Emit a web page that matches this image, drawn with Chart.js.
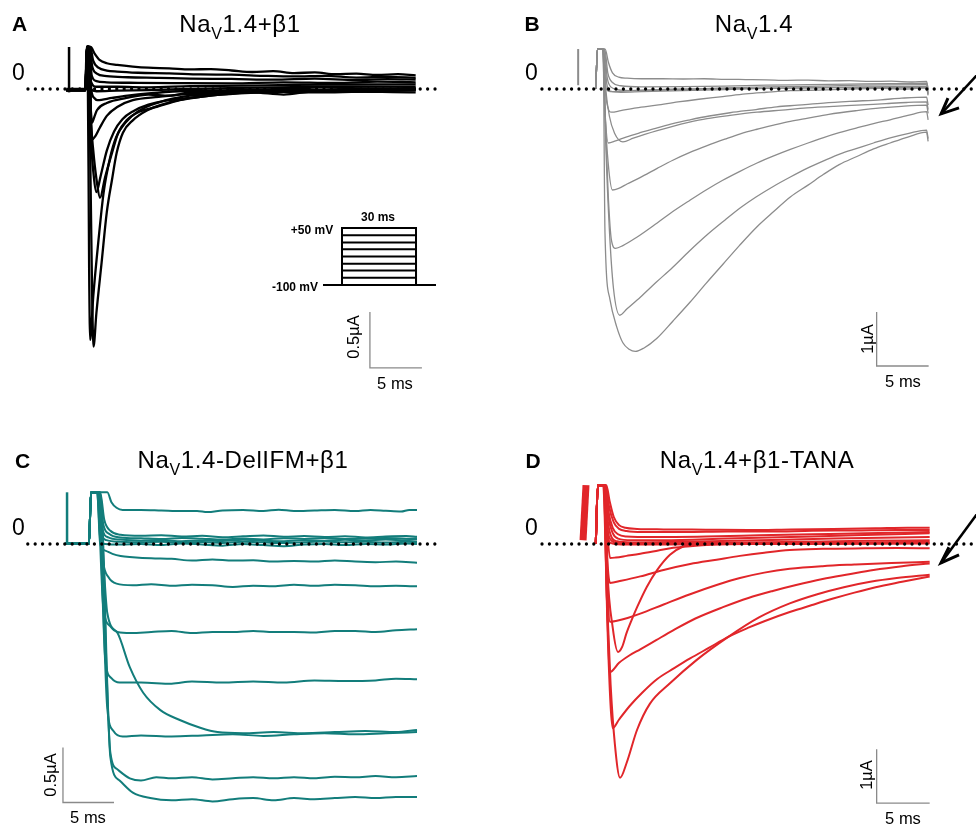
<!DOCTYPE html>
<html>
<head>
<meta charset="utf-8">
<script src="https://cdn.jsdelivr.net/npm/chart.js@4.4.1/dist/chart.umd.min.js"></script>
<style>
html, body { margin: 0; padding: 0; background: #fff; }
#fig { position: relative; width: 976px; height: 827px; overflow: hidden; font-family: "Liberation Sans", Arial, sans-serif; }
#fig canvas { position: absolute; }
.t { position: absolute; white-space: nowrap; color: #000; line-height: 1; transform: translate(-50%, -50%); }
.letter { font-weight: bold; font-size: 21px; }
.title { font-size: 24px; letter-spacing: 0.6px; }
.title sub { font-size: 16px; position: relative; top: 7px; vertical-align: baseline; line-height: 0; }
.zero { font-size: 23px; }
.cal { font-size: 16.5px; }
.rot { transform: translate(-50%, -50%) rotate(-90deg); }
.proto { font-weight: bold; font-size: 12px; }
</style>
</head>
<body>
<div id="fig">
  <canvas id="cA"></canvas>
  <canvas id="cB"></canvas>
  <canvas id="cC"></canvas>
  <canvas id="cD"></canvas>
  <canvas id="cP"></canvas>

  <div class="t letter" style="left:19.5px;top:23px">A</div>
  <div class="t letter" style="left:532px;top:23px">B</div>
  <div class="t letter" style="left:22.5px;top:460px">C</div>
  <div class="t letter" style="left:533px;top:460px">D</div>

  <div class="t title" style="left:240px;top:24px">Na<sub>V</sub>1.4+β1</div>
  <div class="t title" style="left:754px;top:24px">Na<sub>V</sub>1.4</div>
  <div class="t title" style="left:243px;top:460px">Na<sub>V</sub>1.4-DelIFM+β1</div>
  <div class="t title" style="left:757px;top:460px">Na<sub>V</sub>1.4+β1-TANA</div>

  <div class="t zero" style="left:18.5px;top:71.5px">0</div>
  <div class="t zero" style="left:531.5px;top:71.5px">0</div>
  <div class="t zero" style="left:18.5px;top:526.5px">0</div>
  <div class="t zero" style="left:531.5px;top:526.5px">0</div>

  <div class="t cal" style="left:395px;top:383px">5 ms</div>
  <div class="t cal rot" style="left:353px;top:337px">0.5µA</div>
  <div class="t cal" style="left:903px;top:381px">5 ms</div>
  <div class="t cal rot" style="left:867px;top:339px">1µA</div>
  <div class="t cal" style="left:88px;top:817px">5 ms</div>
  <div class="t cal rot" style="left:50px;top:775px">0.5µA</div>
  <div class="t cal" style="left:903px;top:818px">5 ms</div>
  <div class="t cal rot" style="left:866px;top:775px">1µA</div>

  <div class="t proto" style="left:378px;top:217px">30 ms</div>
  <div class="t proto" style="left:312px;top:230px">+50 mV</div>
  <div class="t proto" style="left:295px;top:287px">-100 mV</div>
</div>

<script>
// ---- data: time in ms from pulse onset, current in uA ----

// A: Nav1.4 + beta1
const tracesA = [
  [[-1.9,-0.01],[-0.05,-0.01],[0.1,0.375],[0.45,0.375],[0.8,0.32],[1.3,0.26],[2,0.23],[3,0.215],[4.5,0.2],[6,0.19],[8,0.185],[10,0.175],[12,0.178],[14,0.165],[16,0.152],[18,0.16],[20,0.142],[22,0.148],[24,0.132],[26,0.138],[28,0.125],[30,0.132],[31.7,0.122]],
  [[-1.9,-0.01],[-0.05,-0.01],[0.1,0.375],[0.4,0.375],[0.7,0.25],[1.2,0.19],[2,0.165],[3,0.155],[5,0.145],[8,0.14],[11,0.13],[14,0.128],[17,0.118],[20,0.112],[23,0.118],[26,0.102],[29,0.108],[31.7,0.1]],
  [[-1.9,-0.01],[-0.05,-0.01],[0.1,0.375],[0.35,0.375],[0.6,0.2],[1,0.14],[2,0.115],[4,0.105],[7,0.1],[10,0.093],[14,0.09],[18,0.083],[22,0.092],[26,0.08],[29,0.088],[31.7,0.084]],
  [[-1.9,-0.01],[-0.05,-0.01],[0.1,0.375],[0.3,0.375],[0.55,0.12],[1,0.07],[2,0.06],[5,0.055],[9,0.052],[14,0.05],[19,0.06],[24,0.054],[28,0.066],[31.7,0.06]],
  [[-1.9,-0.01],[-0.05,-0.01],[0.1,0.375],[0.25,0.375],[0.5,0.06],[1,0.02],[3,0.02],[6,0.015],[10,0.025],[15,0.03],[20,0.036],[25,0.04],[31.7,0.042]],
  [[-1.9,-0.01],[-0.05,-0.01],[0.08,0.375],[0.2,0.375],[0.45,0.0],[1,-0.02],[3,-0.015],[6,-0.01],[10,0.0],[15,0.01],[20,0.016],[25,0.02],[31.7,0.022]],
  [[-1.9,-0.01],[-0.05,-0.01],[0.08,0.375],[0.3,0.375],[0.5,0.0],[0.8,-0.08],[1.1,-0.1],[2.5,-0.08],[4,-0.06],[6,-0.04],[9,-0.02],[14,-0.01],[20,0.0],[26,-0.02],[31.7,0.0]],
  [[-1.9,-0.01],[-0.05,-0.01],[0.08,0.375],[0.3,0.375],[0.45,-0.15],[0.58,-0.3],[0.8,-0.25],[1.05,-0.19],[2,-0.125],[3.9,-0.08],[6,-0.05],[8,-0.06],[10,-0.03],[16,-0.02],[22,-0.03],[31.7,-0.01]],
  [[-1.9,-0.01],[-0.05,-0.01],[0.08,0.375],[0.3,0.375],[0.45,-0.25],[0.6,-0.45],[0.9,-0.42],[1.3,-0.35],[2,-0.24],[3,-0.16],[4.5,-0.1],[7,-0.07],[9,-0.05],[12,-0.04],[16,-0.03],[22,-0.02],[31.7,-0.03]],
  [[-1.9,-0.01],[-0.05,-0.01],[0.08,0.375],[0.28,0.375],[0.5,-0.45],[0.75,-0.78],[1.0,-0.92],[1.4,-0.78],[2.0,-0.55],[2.7,-0.38],[3.5,-0.27],[4.5,-0.2],[6,-0.14],[8,-0.1],[10,-0.08],[13,-0.05],[17,-0.03],[22,-0.02],[31.7,-0.01]],
  [[-1.9,-0.01],[-0.05,-0.01],[0.1,0.375],[0.3,0.375],[0.5,-0.3],[0.7,-0.55],[1.0,-0.8],[1.35,-0.97],[1.83,-0.79],[2.5,-0.57],[3.1,-0.39],[3.9,-0.28],[5.2,-0.2],[6.8,-0.16],[9,-0.1],[11,-0.07],[12.9,-0.05],[16,-0.03],[19,-0.05],[22,-0.02],[26,-0.02],[31.7,0.0]],
  [[-1.9,0.0],[-0.05,0.0],[0.05,0.375],[0.15,0.375],[0.3,-1.6],[0.4,-2.24],[0.7,-1.85],[1.2,-1.35],[1.7,-0.92],[2.3,-0.62],[2.9,-0.43],[3.8,-0.3],[5,-0.2],[7,-0.12],[10,-0.06],[14,-0.03],[20,-0.01],[26,0.0],[31.7,0.01]],
  [[-1.9,-0.01],[-0.05,-0.01],[0.1,0.375],[0.25,0.375],[0.45,-0.9],[0.6,-1.9],[0.72,-2.3],[1.0,-2.0],[1.5,-1.55],[2.0,-1.1],[2.5,-0.81],[2.95,-0.57],[3.55,-0.39],[4.5,-0.28],[5.9,-0.19],[7.8,-0.125],[10,-0.08],[12,-0.05],[15,-0.03],[18,-0.02],[22,-0.01],[26,0.0],[31.7,0.0]]
];
const prepulseA = [[-1.63,-0.03],[-1.63,0.375]];
const zeroA = [-5.58, 34.0];
const scaleBarA = [[27.3,-1.99],[27.3,-2.49],[32.3,-2.49]];

// A inset: voltage protocol (ms, mV)
const holdingMv = -100;
const stepLevelsMv = [-81, -62, -44, -25, -6, 12, 31, 50];
const stepMs = [0, 30];
const holdingSpanMs = [-7.7, 38.1];

// B: Nav1.4 alone
const tracesB = [
  [[-0.4,0],[-0.25,0.74],[0.5,0.74],[0.8,0.5],[1.2,0.3],[1.8,0.22],[2.6,0.2],[4,0.19],[6,0.19],[8,0.185],[10,0.19],[12,0.18],[14,0.175],[16,0.17],[18,0.16],[20,0.165],[22,0.15],[24,0.155],[26,0.14],[28,0.145],[30,0.13],[31.4,0.14],[31.55,0.0]],
  [[-0.4,0],[-0.25,0.74],[0.45,0.74],[0.75,0.3],[1.2,0.12],[2,0.06],[4,0.04],[8,0.045],[12,0.055],[16,0.07],[20,0.08],[24,0.09],[28,0.1],[31.4,0.11],[31.55,-0.02]],
  [[-0.4,0],[-0.25,0.74],[0.4,0.74],[0.7,0.2],[1.1,0.03],[2,-0.02],[4,-0.03],[8,-0.01],[12,0.02],[16,0.04],[20,0.05],[25,0.07],[31.4,0.08],[31.55,-0.05]],
  [[-0.4,0],[-0.25,0.74],[0.35,0.74],[0.65,0.1],[1,-0.04],[2,-0.06],[4,-0.05],[8,-0.03],[12,-0.01],[16,0.01],[20,0.02],[25,0.04],[31.4,0.05],[31.55,-0.08]],
  [[-0.4,0],[-0.25,0.74],[0.3,0.74],[0.6,0.0],[1,-0.05],[3,-0.03],[8,0.0],[15,0.01],[20,0.02],[31.4,0.03],[31.55,-0.1]],
  [[-0.4,0],[-0.25,0.74],[0.25,0.74],[0.45,0.1],[0.7,-0.3],[1.1,-0.43],[2,-0.4],[3.5,-0.35],[5.45,-0.3],[7.5,-0.24],[9.5,-0.19],[11.8,-0.14],[14,-0.09],[16,-0.06],[18.3,-0.03],[21,-0.02],[24,0.0],[27,0.01],[29.5,0.0],[31.4,0.02],[31.55,-0.12]],
  [[-0.4,0],[-0.25,0.74],[0.3,0.74],[0.55,0.0],[0.9,-0.5],[1.4,-0.82],[2.2,-0.98],[3.2,-0.91],[4.3,-0.84],[5.5,-0.77],[7,-0.69],[8.5,-0.62],[10.3,-0.55],[12.5,-0.49],[15.1,-0.43],[17.5,-0.39],[19.9,-0.35],[22.5,-0.32],[24.7,-0.3],[27.5,-0.27],[29.5,-0.25],[31.4,-0.24],[31.55,-0.38]],
  [[-0.4,0],[-0.25,0.74],[0.25,0.74],[0.45,-0.3],[0.8,-1.0],[1.5,-0.96],[2.5,-0.89],[3.85,-0.81],[5.5,-0.72],[7,-0.64],[8.65,-0.57],[10.5,-0.5],[12.5,-0.44],[15,-0.38],[17,-0.33],[19,-0.3],[21.5,-0.26],[24,-0.23],[27,-0.2],[29,-0.17],[31.4,-0.15],[31.55,-0.3]],
  [[-0.4,0],[-0.25,0.74],[0.28,0.74],[0.5,-0.5],[0.8,-1.4],[1.2,-1.87],[1.8,-1.84],[2.6,-1.76],[3.85,-1.64],[5.5,-1.47],[7.0,-1.32],[8.6,-1.18],[10.3,-1.05],[12,-0.93],[13.5,-0.83],[15,-0.75],[16.7,-0.67],[18.3,-0.6],[20,-0.54],[22,-0.47],[24.7,-0.4],[27,-0.35],[29,-0.32],[31.4,-0.3],[31.55,-0.45]],
  [[-0.4,0],[-0.25,0.74],[0.3,0.74],[0.55,-0.8],[0.8,-2.0],[1.1,-2.8],[1.5,-2.95],[2.2,-2.9],[3.5,-2.75],[5.5,-2.48],[7,-2.27],[8.65,-2.06],[10.2,-1.87],[11.8,-1.69],[13.5,-1.52],[15.1,-1.37],[16.7,-1.24],[18.3,-1.12],[20,-1.0],[21.5,-0.9],[23,-0.81],[24.7,-0.72],[26.3,-0.64],[27.9,-0.57],[29.6,-0.49],[31.4,-0.42],[31.55,-0.57]],
  [[-0.4,0],[-0.25,0.74],[0.3,0.74],[0.55,-1.0],[0.9,-2.6],[1.3,-3.7],[1.9,-4.19],[2.6,-4.07],[3.9,-3.85],[5.4,-3.58],[7,-3.3],[8.6,-3.0],[10.3,-2.7],[12,-2.43],[13.5,-2.2],[15,-2.0],[16.7,-1.8],[18.3,-1.63],[19.9,-1.47],[21.5,-1.33],[23.1,-1.2],[24.7,-1.1],[26.3,-1.0],[28,-0.9],[29.7,-0.82],[31.4,-0.76],[31.55,-0.92]],
  [[-0.4,0],[-0.25,0.74],[0.3,0.74],[0.48,-2.67],[0.96,-3.9],[1.6,-4.4],[2.2,-4.7],[2.8,-4.82],[3.4,-4.86],[4.2,-4.8],[5.45,-4.62],[7,-4.3],[8.65,-3.95],[10.2,-3.6],[11.8,-3.25],[13.4,-2.9],[15.1,-2.55],[16.7,-2.27],[18.3,-2.0],[20,-1.78],[21.5,-1.58],[23,-1.4],[24.7,-1.25],[26.3,-1.11],[27.9,-1.0],[29.6,-0.89],[31.4,-0.8],[31.55,-0.97]]
];
const prepulseB = [[-2.1,0.07],[-2.1,0.74]];
const zeroB = [-5.58, 36.6];
const scaleBarB = [[26.6,-4.13],[26.6,-5.13],[31.6,-5.13]];
const arrowB = [[36.6,0.33],[32.8,-0.46]];
const arrowHeadB = [[33.46,-0.17],[32.8,-0.46],[34.52,-0.35]];

// C: Nav1.4-DelIFM + beta1 (non-inactivating)
const tracesC = [
  [[-2.45,0.01],[-0.1,0.01],[0.1,0.47],[1.7,0.47],[2.1,0.38],[2.6,0.33],[3.2,0.31],[5,0.31],[7,0.305],[9,0.3],[10.5,0.3],[11.5,0.29],[13,0.305],[15,0.31],[17,0.3],[18.5,0.312],[20,0.3],[22,0.305],[24,0.31],[26,0.3],[27.5,0.31],[29,0.302],[30.5,0.295],[31.3,0.31],[32.06,0.31]],
  [[-2.45,0.0],[-0.1,0.0],[0.1,0.47],[1.0,0.47],[1.4,0.22],[2,0.12],[3,0.085],[5,0.075],[7,0.08],[9,0.068],[11,0.074],[13,0.062],[15,0.07],[17,0.078],[19,0.066],[21,0.072],[23,0.064],[25,0.07],[27,0.06],[29,0.068],[31,0.072],[32.06,0.066]],
  [[-2.45,0.0],[-0.1,0.0],[0.1,0.47],[0.9,0.47],[1.3,0.18],[1.9,0.09],[3,0.06],[5,0.052],[7,0.045],[9,0.055],[11,0.048],[13,0.04],[15,0.05],[17,0.042],[19,0.052],[21,0.046],[23,0.055],[25,0.045],[27,0.05],[29,0.055],[31,0.048],[32.06,0.052]],
  [[-2.45,0.0],[-0.1,0.0],[0.1,0.47],[0.8,0.47],[1.2,0.14],[1.8,0.06],[3,0.04],[5,0.03],[7,0.036],[9,0.025],[11,0.032],[13,0.028],[15,0.038],[17,0.03],[19,0.026],[21,0.035],[23,0.03],[25,0.038],[27,0.032],[29,0.04],[31,0.034],[32.06,0.04]],
  [[-2.45,0.0],[-0.1,0.0],[0.1,0.47],[0.75,0.47],[1.1,0.1],[1.6,0.035],[3,0.02],[5,0.015],[7,0.02],[9,0.012],[11,0.018],[13,0.01],[15,0.02],[17,0.015],[19,0.008],[21,0.016],[23,0.022],[25,0.015],[27,0.02],[29,0.014],[31,0.02],[32.06,0.018]],
  [[-2.45,0.0],[-0.1,0.0],[0.1,0.47],[0.7,0.47],[1.0,0.06],[1.5,0.0],[3,-0.005],[5,0.0],[7,-0.01],[9,0.005],[11,-0.005],[13,-0.015],[15,0.0],[17,-0.01],[19,-0.02],[21,-0.005],[23,0.0],[25,-0.01],[27,0.0],[29,-0.005],[31,0.005],[32.06,0.0]],
  [[-2.45,0.0],[-0.1,0.0],[0.1,0.47],[0.7,0.47],[1.0,0.0],[1.5,-0.06],[2.2,-0.09],[3,-0.11],[4.2,-0.12],[6,-0.13],[8,-0.135],[10,-0.15],[12,-0.14],[14,-0.15],[16,-0.148],[18,-0.16],[20,-0.155],[22,-0.16],[24,-0.15],[26,-0.16],[28,-0.165],[30,-0.16],[32.06,-0.17]],
  [[-2.45,0.0],[-0.1,0.0],[0.1,0.47],[0.7,0.47],[1.3,-0.17],[1.8,-0.3],[2.6,-0.36],[4.2,-0.375],[6,-0.365],[8,-0.38],[10,-0.37],[12,-0.375],[14,-0.39],[16,-0.38],[18,-0.385],[20,-0.37],[22,-0.38],[24,-0.37],[26,-0.375],[28,-0.385],[30,-0.38],[32.06,-0.385]],
  [[-2.45,0.0],[-0.1,0.0],[0.1,0.47],[0.7,0.47],[1.3,-0.57],[2.0,-0.75],[2.7,-0.8],[4,-0.81],[6,-0.8],[8,-0.79],[10,-0.81],[12,-0.8],[14,-0.8],[16,-0.79],[18,-0.8],[20,-0.8],[22,-0.805],[24,-0.79],[26,-0.79],[28,-0.8],[30,-0.785],[32.06,-0.775]],
  [[-2.45,0.0],[-0.1,0.0],[0.1,0.47],[0.8,0.47],[1.5,-1.05],[2.1,-1.22],[2.9,-1.26],[5,-1.26],[8,-1.27],[10,-1.25],[13,-1.26],[16,-1.25],[19,-1.26],[22,-1.24],[25,-1.245],[28,-1.24],[30,-1.225],[32.06,-1.23]],
  [[-2.45,0.0],[-0.1,0.0],[0.1,0.47],[0.8,0.47],[1.7,-0.63],[2.7,-0.81],[3.9,-1.12],[5.2,-1.35],[6.9,-1.51],[8.8,-1.6],[10.8,-1.67],[12.5,-1.71],[15,-1.72],[18,-1.71],[21,-1.72],[24,-1.71],[27,-1.7],[30,-1.71],[32.06,-1.69]],
  [[-2.45,0.0],[-0.1,0.0],[0.1,0.47],[0.8,0.47],[1.7,-1.5],[2.3,-1.7],[3.2,-1.75],[5,-1.74],[8,-1.75],[11,-1.74],[14,-1.73],[17,-1.745],[20,-1.73],[23,-1.72],[26,-1.73],[29,-1.72],[32.06,-1.71]],
  [[-2.45,0.0],[-0.1,0.0],[0.1,0.47],[0.9,0.47],[2.0,-1.9],[2.7,-2.05],[3.9,-2.13],[5,-2.15],[6.5,-2.12],[8,-2.13],[10,-2.12],[12,-2.14],[14,-2.13],[16,-2.12],[18,-2.13],[20,-2.12],[22,-2.13],[24,-2.115],[26,-2.12],[28,-2.11],[30,-2.12],[32.06,-2.11]],
  [[-2.45,0.0],[-0.1,0.0],[0.1,0.47],[1.0,0.47],[2.0,-1.94],[2.9,-2.15],[4.2,-2.26],[5.9,-2.31],[8,-2.33],[10,-2.32],[12,-2.34],[14,-2.32],[16,-2.31],[18,-2.33],[20,-2.31],[22,-2.32],[24,-2.31],[26,-2.3],[28,-2.31],[30,-2.3],[32.06,-2.3]]
];
const prepulseC = [[-2.25,0.0],[-2.25,0.47]];
const zeroC = [-6.1, 34.0];
const scaleBarC = [[-2.65,-1.85],[-2.65,-2.35],[2.35,-2.35]];

// D: Nav1.4 + beta1-TANA
const tracesD = [
  [[-0.4,0],[-0.2,1.09],[0.6,1.09],[0.9,0.8],[1.3,0.5],[1.8,0.35],[2.4,0.3],[3.5,0.28],[6,0.27],[10,0.265],[14,0.26],[18,0.27],[22,0.28],[26,0.29],[29,0.3],[31.1,0.3]],
  [[-0.4,0],[-0.2,1.09],[0.55,1.09],[0.85,0.7],[1.3,0.4],[1.8,0.28],[2.5,0.24],[4,0.22],[8,0.22],[12,0.23],[16,0.23],[20,0.245],[24,0.25],[28,0.26],[31.1,0.26]],
  [[-0.4,0],[-0.2,1.09],[0.5,1.09],[0.8,0.6],[1.2,0.3],[1.7,0.18],[2.5,0.14],[5,0.13],[10,0.14],[15,0.16],[20,0.18],[25,0.2],[31.1,0.22]],
  [[-0.4,0],[-0.2,1.09],[0.5,1.09],[0.8,0.5],[1.2,0.2],[1.7,0.1],[3,0.07],[6,0.07],[12,0.1],[18,0.13],[24,0.16],[31.1,0.2]],
  [[-0.4,0],[-0.2,1.09],[0.45,1.09],[0.75,0.4],[1.1,0.12],[1.6,0.05],[3,0.03],[8,0.04],[15,0.07],[22,0.1],[31.1,0.13]],
  [[-0.4,0],[-0.2,1.09],[0.45,1.09],[0.7,0.3],[1.1,0.06],[1.6,0.02],[4,0.01],[10,0.02],[18,0.04],[25,0.06],[31.1,0.07]],
  [[-0.4,0],[-0.2,1.09],[0.4,1.09],[0.7,0.2],[1.0,0.02],[2,-0.01],[6,-0.01],[12,0.0],[20,0.01],[31.1,0.02]],
  [[-0.4,0],[-0.2,1.09],[0.45,1.09],[0.7,0.2],[0.95,-0.26],[1.5,-0.25],[2.5,-0.22],[3.8,-0.18],[5.5,-0.12],[6.9,-0.07],[8.5,-0.04],[10,-0.02],[14,0.0],[20,0.0],[31.1,0.01]],
  [[-0.4,0],[-0.2,1.09],[0.45,1.09],[0.7,-0.3],[0.94,-0.72],[2,-0.68],[3.8,-0.6],[6,-0.48],[8.5,-0.37],[11,-0.29],[13.2,-0.22],[15.5,-0.16],[17.9,-0.11],[21,-0.09],[25,-0.08],[28,-0.075],[31.1,-0.08]],
  [[-0.4,0],[-0.2,1.09],[0.45,1.09],[0.7,-0.5],[1.2,-1.55],[1.7,-2.0],[2.1,-1.9],[2.5,-1.65],[3.0,-1.4],[3.5,-1.17],[4.4,-0.8],[5.4,-0.48],[6.6,-0.2],[7.8,-0.05],[9.5,0.0],[12,0.02],[16,0.02],[20,0.03],[25,0.03],[31.1,0.04]],
  [[-0.4,0],[-0.2,1.09],[0.4,1.09],[0.65,-0.5],[0.94,-1.44],[1.6,-1.42],[2.6,-1.37],[3.8,-1.29],[6,-1.12],[8.5,-0.93],[11,-0.76],[13.2,-0.63],[15.5,-0.53],[17.9,-0.46],[21,-0.41],[24,-0.38],[27.5,-0.35],[31.1,-0.33]],
  [[-0.4,0],[-0.2,1.09],[0.35,1.09],[0.65,-1.0],[0.94,-2.37],[1.8,-2.2],[2.8,-2.06],[3.8,-1.95],[5.3,-1.78],[6.9,-1.6],[9,-1.38],[11.6,-1.17],[14,-1.0],[16.3,-0.87],[18.5,-0.76],[21,-0.65],[23.5,-0.56],[25.8,-0.48],[28.5,-0.41],[31.1,-0.36]],
  [[-0.4,0],[-0.2,1.09],[0.35,1.09],[0.7,-1.5],[1.0,-3.0],[1.2,-3.41],[1.8,-3.25],[2.8,-3.0],[4,-2.75],[5.4,-2.5],[7,-2.3],[8.5,-2.12],[10.3,-1.92],[12.1,-1.72],[14,-1.55],[15.5,-1.43],[17.9,-1.26],[20,-1.13],[22,-1.01],[24,-0.9],[26,-0.8],[28.5,-0.7],[31.1,-0.6]],
  [[-0.4,0],[-0.2,1.09],[0.3,1.09],[0.65,-1.0],[1.0,-2.6],[1.4,-3.7],[1.89,-4.33],[2.5,-4.06],[3.5,-3.44],[4.7,-2.96],[6.6,-2.58],[9.1,-2.15],[12.1,-1.72],[15,-1.36],[17.9,-1.1],[20.5,-0.93],[23,-0.8],[25.5,-0.7],[28,-0.63],[31.1,-0.57]]
];
const prepulseD = [[-1.6,0.07],[-1.32,1.09]];
const zeroD = [-5.47, 35.6];
const scaleBarD = [[26.1,-3.8],[26.1,-4.8],[31.1,-4.8]];
const arrowD = [[35.85,0.63],[32.17,-0.35]];
const arrowHeadD = [[32.92,-0.06],[32.17,-0.35],[33.87,-0.2]];

// ---- layout: canvas boxes (page px) and the calibration that maps data to them ----
const layout = {
  A: { box: {left:0, top:0, width:488, height:413}, cal: {x0:86, y0:89, kx:10.4, ky:112} },
  B: { box: {left:488, top:0, width:488, height:413}, cal: {x0:600, y0:89, kx:10.4, ky:54} },
  C: { box: {left:0, top:413, width:488, height:414}, cal: {x0:90, y0:544, kx:10.2, ky:110} },
  D: { box: {left:488, top:413, width:488, height:414}, cal: {x0:600, y0:544, kx:10.6, ky:54} },
  P: { box: {left:316, top:212, width:128, height:82}, cal: {x0:342, y0:247, kx:2.467, ky:0.38} }
};

const colors = { A: '#000000', B: '#8c8c8c', C: '#127d7b', D: '#e1262a' };
const widths = { A: 2.3, B: 1.3, C: 2.0, D: 2.0 };
const scaleBarColor = '#8a8a8a';

function pts(arr) {
  return arr.map(function(p) { return {x: p[0], y: p[1]} });
}

function line(arr, color, width, extra) {
  return Object.assign({
    data: pts(arr),
    showLine: true,
    borderColor: color,
    backgroundColor: color,
    borderWidth: width,
    pointRadius: 0,
    fill: false
  }, extra || {});
}

function scalesFor(key) {
  var b = layout[key].box, c = layout[key].cal;
  return {
    x: { type: 'linear', display: false, min: (b.left - c.x0) / c.kx, max: (b.left + b.width - c.x0) / c.kx },
    y: { type: 'linear', display: false, min: (c.y0 - b.top - b.height) / c.ky, max: (c.y0 - b.top) / c.ky }
  };
}

function makeChart(key, datasets) {
  var b = layout[key].box;
  var cv = document.getElementById('c' + key);
  cv.width = b.width;
  cv.height = b.height;
  cv.style.left = b.left + 'px';
  cv.style.top = b.top + 'px';
  cv.style.width = b.width + 'px';
  cv.style.height = b.height + 'px';
  return new Chart(cv, {
    type: 'scatter',
    data: { datasets: datasets },
    options: {
      responsive: false,
      animation: false,
      events: [],
      devicePixelRatio: 1,
      layout: { padding: 0 },
      plugins: { legend: { display: false }, tooltip: { enabled: false } },
      scales: scalesFor(key)
    }
  });
}

function panel(key, traces, prepulse, prepulseWidth, zero, scaleBar, arrow, arrowHead) {
  var ds = [];
  // dotted zero-current line goes on top
  ds.push(line([[zero[0], 0], [zero[1], 0]], '#000', 3.3,
    { borderDash: [0.001, 7.4], borderCapStyle: 'round', order: -1 }));
  traces.forEach(function(tr) {
    ds.push(line(tr, colors[key], widths[key], { cubicInterpolationMode: 'monotone' }));
  });
  ds.push(line(prepulse, colors[key], prepulseWidth));
  ds.push(line(scaleBar, scaleBarColor, 1.3));
  if (arrow) {
    ds.push(line(arrow, '#000', 2.6, { order: -2 }));
    ds.push(line(arrowHead, '#000', 3.0, { order: -2, borderJoinStyle: 'miter' }));
  }
  return makeChart(key, ds);
}

panel('A', tracesA, prepulseA, 2.5, zeroA, scaleBarA);
panel('B', tracesB, prepulseB, 2.0, zeroB, scaleBarB, arrowB, arrowHeadB);
panel('C', tracesC, prepulseC, 2.5, zeroC, scaleBarC);
panel('D', tracesD, prepulseD, 7, zeroD, scaleBarD, arrowD, arrowHeadD);

// voltage protocol inset
var protoSets = [line([[holdingSpanMs[0], holdingMv], [holdingSpanMs[1], holdingMv]], '#000', 2.2)];
stepLevelsMv.forEach(function(v) {
  protoSets.push(line([[stepMs[0], holdingMv], [stepMs[0], v], [stepMs[1], v], [stepMs[1], holdingMv]], '#000', 2.0));
});
makeChart('P', protoSets);
</script>
</body>
</html>
